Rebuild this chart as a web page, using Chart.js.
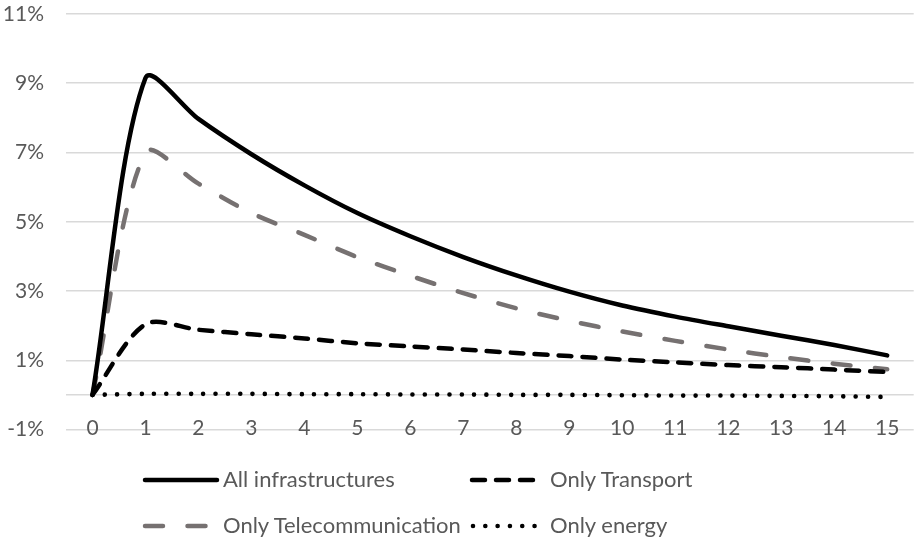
<!DOCTYPE html>
<html>
<head>
<meta charset="utf-8">
<script src="https://cdn.jsdelivr.net/npm/chart.js@4"></script>
<style>
  html, body { margin: 0; padding: 0; background: #fff; }
  #wrap { position: relative; width: 916px; height: 540px; }
  #legend { position: absolute; left: 0; top: 0; width: 916px; height: 540px; pointer-events: none;
            font-family: Lato, sans-serif; font-size: 22px; color: #595959; }
  #legend svg, #legend span { position: absolute; }
  #legend span { line-height: 26px; white-space: nowrap; }
</style>
</head>
<body>
<div id="wrap">
  <canvas id="chart" width="916" height="540"></canvas>
  <div id="legend"></div>
</div>
<script>
// years after the shock
const years = ['0','1','2','3','4','5','6','7','8','9','10','11','12','13','14','15'];

// response, in percent
const allInfra  = [0, 9.15, 7.97, 6.95, 6.05, 5.25, 4.58, 3.98, 3.45, 2.98, 2.58, 2.26, 1.98, 1.71, 1.44, 1.14];
const transport = [0, 2.04, 1.88, 1.75, 1.63, 1.49, 1.4, 1.31, 1.21, 1.12, 1.02, 0.94, 0.86, 0.8, 0.73, 0.66];
const telecom   = [0, 7.0, 6.1, 5.25, 4.62, 3.98, 3.44, 2.94, 2.5, 2.14, 1.83, 1.56, 1.31, 1.09, 0.9, 0.74];
const energy    = [0, 0.03, 0.03, 0.03, 0.02, 0.02, 0.01, 0.01, 0, 0, -0.01, -0.02, -0.02, -0.03, -0.04, -0.06];

const seriesNames = ['All infrastructures', 'Only Transport', 'Only Telecommunication', 'Only energy'];

const textColor = '#595959';
const gridColor = '#d9d9d9';

const styles = [
  { color: '#000000', dash: [], width: 4.5 },
  { color: '#000000', dash: [13, 11], width: 4.5 },
  { color: '#767171', dash: [18, 24.5], width: 4.5 },
  { color: '#000000', dash: [0.01, 12.3], width: 4.6 }
];
const seriesData = [allInfra, transport, telecom, energy];

const chart = new Chart(document.getElementById('chart'), {
  type: 'line',
  data: {
    labels: years,
    datasets: seriesData.map((d, i) => ({
      label: seriesNames[i],
      data: d,
      borderColor: styles[i].color,
      borderWidth: styles[i].width,
      borderDash: styles[i].dash,
      borderCapStyle: 'round',
      borderJoinStyle: 'round',
      pointRadius: 0,
      tension: 0.3,
      fill: false
    }))
  },
  options: {
    responsive: false,
    animation: false,
    layout: { padding: { top: 14, right: 0, bottom: 100, left: 0 } },
    plugins: {
      legend: { display: false },
      tooltip: { enabled: false }
    },
    scales: {
      x: {
        type: 'category',
        offset: true,
        grid: { display: false, drawTicks: false },
        border: { display: false },
        ticks: {
          color: textColor,
          font: { family: 'Lato', size: 21 },
          mirror: true,
          padding: -11,
          maxRotation: 0,
          autoSkip: false
        }
      },
      y: {
        min: -1,
        max: 11,
        afterFit: (scale) => {
          scale.width = 66;
          scale.paddingTop = 10;
          scale.paddingBottom = 10;
        },
        border: { display: false },
        grid: {
          drawTicks: false,
          lineWidth: 1.5,
          color: (ctx) => {
            const v = ctx.tick ? ctx.tick.value : 1;
            return (Math.abs(v % 2) === 1 || v === 0) ? gridColor : 'rgba(0,0,0,0)';
          }
        },
        ticks: {
          stepSize: 1,
          autoSkip: false,
          color: textColor,
          font: { family: 'Lato', size: 21 },
          padding: 22,
          callback: (v) => (Math.abs(v % 2) === 1 ? v + '%' : '')
        }
      }
    }
  }
});

// pin the plot area: 11% line at y=14, -1% line at y=429.5
const pad = chart.options.layout.padding;
for (let k = 0; k < 2; k++) {
  pad.top += 14 - chart.chartArea.top;
  pad.bottom += chart.chartArea.bottom - 429.5;
  chart.update();
}

// legend laid out as a 2 x 2 grid like the original
const legendRows = [480, 480, 526, 526];
const sampleX = [145, 472, 145, 473];
const sampleLen = [72, 66, 65, 65];
const textX = [223, 550, 223, 550];
const legend = document.getElementById('legend');
seriesNames.forEach((name, i) => {
  const s = styles[i];
  const w = sampleLen[i] + 6;
  const svg = document.createElementNS('http://www.w3.org/2000/svg', 'svg');
  svg.setAttribute('width', w);
  svg.setAttribute('height', 10);
  svg.style.left = (sampleX[i] - 3) + 'px';
  svg.style.top = (legendRows[i] - 5) + 'px';
  svg.innerHTML = '<line x1="3" y1="5" x2="' + (w - 3) + '" y2="5" stroke="' + s.color +
    '" stroke-width="' + s.width + '" stroke-linecap="round" stroke-dasharray="' +
    (s.dash.length ? s.dash.join(' ') : 'none') + '"/>';
  const span = document.createElement('span');
  span.textContent = name;
  span.style.left = textX[i] + 'px';
  span.style.top = (legendRows[i] - 14) + 'px';
  legend.appendChild(svg);
  legend.appendChild(span);
});
</script>
</body>
</html>
